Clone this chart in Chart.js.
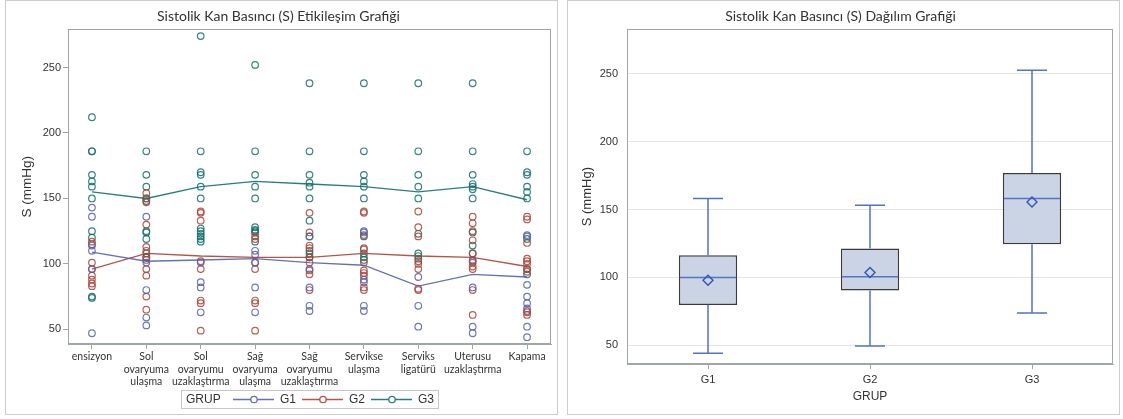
<!DOCTYPE html>
<html>
<head>
<meta charset="utf-8">
<script src="https://cdn.jsdelivr.net/npm/chart.js@4.4.1/dist/chart.umd.min.js"></script>
<style>
  html, body { margin: 0; padding: 0; background: #ffffff; }
  .panel { position: absolute; top: 0; width: 553px; height: 415px; border: 1px solid #cdcdcd; box-sizing: border-box; background: #fff; }
  #panelLeft { left: 5px; }
  #panelRight { left: 567px; }
  canvas { display: block; }
</style>
</head>
<body>
<div class="panel" id="panelLeft"><canvas id="interactionChart" width="551" height="413"></canvas></div>
<div class="panel" id="panelRight"><canvas id="boxChart" width="551" height="413"></canvas></div>
<script>
// ---- Stage labels (surgery phases) ----
const stageLabels = [
  'ensizyon',
  ['Sol', 'ovaryuma', 'ulaşma'],
  ['Sol', 'ovaryumu', 'uzaklaştırma'],
  ['Sağ', 'ovaryuma', 'ulaşma'],
  ['Sağ', 'ovaryumu', 'uzaklaştırma'],
  ['Servikse', 'ulaşma'],
  ['Serviks', 'ligatürü'],
  ['Uterusu', 'uzaklaştırma'],
  'Kapama'
];
const groupNames = ['G1', 'G2', 'G3'];
const yTicks = [50, 100, 150, 200, 250];

// ---- Individual systolic pressures per stage (mmHg) ----
const g1Values = [
  [143, 136, 114, 110, 96, 47],
  [136, 101, 80, 59, 53],
  [101, 86, 82, 63],
  [110, 107, 101, 82, 63],
  [121, 96, 82, 68, 64],
  [125, 124, 88, 86, 68, 64],
  [90, 68, 52],
  [103, 82, 52, 47],
  [122, 121, 84, 75, 70, 66, 52, 44]
];
const g2Values = [
  [117, 115, 101, 96, 91, 88, 85, 83],
  [154, 150, 147, 130, 113, 110, 105, 103, 96, 91, 75, 65],
  [140, 139, 133, 102, 96, 72, 70, 49],
  [121, 119, 101, 96, 72, 70, 49],
  [139, 124, 114, 112, 105, 101, 95, 92, 80],
  [140, 139, 122, 112, 111, 101, 95, 93, 91, 82, 80],
  [140, 128, 121, 102, 100, 96, 81, 80],
  [136, 131, 125, 118, 108, 102, 101, 98, 96, 80, 61],
  [136, 134, 116, 104, 102, 100, 96, 94, 64, 63, 61]
];
const g3Values = [
  [212, 186, 186, 168, 163, 159, 150, 125, 120, 75, 74],
  [186, 168, 159, 150, 148, 125, 124, 119, 108, 105],
  [274, 186, 170, 168, 159, 150, 127, 125, 123, 121, 119, 117],
  [252, 186, 168, 159, 150, 128, 126, 125, 124, 117],
  [238, 186, 168, 162, 159, 150, 133, 121, 110, 108, 105],
  [238, 186, 168, 163, 159, 150, 121, 108, 105, 103],
  [238, 186, 168, 159, 150, 123, 108, 106, 104],
  [238, 186, 168, 161, 159, 157, 150, 124, 114, 108],
  [186, 170, 168, 159, 155, 150, 119, 96, 92]
];

// ---- Group means per stage ----
const g1Means = [109, 102, 103, 104, 101, 99, 83, 92, 90];
const g2Means = [96, 108, 106, 105, 105, 108, 106, 105, 98];
const g3Means = [155, 150, 159, 163, 161, 159, 155, 159, 149];

// ---- Box plot summary per group ----
const boxMin    = [44.2, 49.5, 73.8];
const boxQ1     = [79.7, 90.4, 124.5];
const boxMedian = [100, 100.5, 158.2];
const boxMean   = [98, 103.7, 155.6];
const boxQ3     = [116.4, 121.3, 176.9];
const boxMax    = [158.2, 153.2, 252.7];

// ---- Styling ----
const lineColors  = ['rgba(84,98,170,0.9)', 'rgba(170,68,56,0.9)', 'rgba(20,112,104,0.9)'];
const pointColors = ['rgba(84,98,170,0.85)', 'rgba(170,68,56,0.85)', 'rgba(20,112,104,0.85)'];
const axisColor = '#9ea6aa';
const textColor = '#333333';
const arialLike = '"Liberation Sans", Arial, sans-serif';
const tickFont = { family: arialLike, size: 11 };
const calibriLike = '"Lato", "Open Sans", sans-serif';

const frame = {
  id: 'plotFrame',
  afterDraw(chart) {
    const a = chart.chartArea, ctx = chart.ctx;
    ctx.save();
    ctx.strokeStyle = axisColor;
    ctx.lineWidth = 1;
    ctx.strokeRect(Math.round(a.left) + 0.5, Math.round(a.top) + 0.5,
                   Math.round(a.right - a.left) - 1, Math.round(a.bottom - a.top) - 1);
    ctx.restore();
  }
};

// Legend drawn below the interaction plot
const groupLegend = {
  id: 'groupLegend',
  afterDraw(chart) {
    const ctx = chart.ctx;
    const cy = 398.5;
    ctx.save();
    ctx.strokeStyle = '#c6c6c6';
    ctx.lineWidth = 1;
    ctx.strokeRect(175.5, 389.5, 257, 18);
    ctx.fillStyle = textColor;
    ctx.textBaseline = 'middle';
    ctx.font = '12px ' + arialLike;
    ctx.fillText('GRUP', 180, cy);
    groupNames.forEach((name, i) => {
      const x0 = 227 + i * 69;
      ctx.strokeStyle = lineColors[i];
      ctx.lineWidth = 1.3;
      ctx.beginPath();
      ctx.moveTo(x0, cy);
      ctx.lineTo(x0 + 41, cy);
      ctx.stroke();
      ctx.fillStyle = '#fff';
      ctx.beginPath();
      ctx.arc(x0 + 21, cy, 3.2, 0, Math.PI * 2);
      ctx.fill();
      ctx.stroke();
      ctx.fillStyle = textColor;
      ctx.font = '12px ' + arialLike;
      ctx.fillText(name, x0 + 47, cy);
    });
    ctx.restore();
  }
};

const pointSets = [g1Values, g2Values, g3Values];
const meanSets = [g1Means, g2Means, g3Means];
const datasets = [];
pointSets.forEach((vals, g) => {
  datasets.push({
    type: 'scatter',
    label: groupNames[g] + ' values',
    data: vals.flatMap((arr, i) => arr.map(v => ({ x: i, y: v }))),
    pointStyle: 'circle',
    pointRadius: 3.3,
    pointBorderWidth: 1.2,
    pointBorderColor: pointColors[g],
    pointBackgroundColor: 'rgba(255,255,255,0)',
    showLine: false,
    order: 2
  });
});
meanSets.forEach((means, g) => {
  datasets.push({
    type: 'line',
    label: groupNames[g],
    data: means.map((m, i) => ({ x: i, y: m })),
    borderColor: lineColors[g],
    borderWidth: 1.4,
    pointRadius: 0,
    tension: 0,
    fill: false,
    order: 1
  });
});

new Chart(document.getElementById('interactionChart'), {
  type: 'scatter',
  data: { datasets },
  plugins: [frame, groupLegend],
  options: {
    responsive: false,
    animation: false,
    layout: { padding: { left: 0, right: 6, top: 0, bottom: 0 } },
    plugins: {
      legend: { display: false },
      tooltip: { enabled: false },
      title: {
        display: true,
        text: 'Sistolik Kan Basıncı (S) Etikileşim Grafiği',
        color: textColor,
        font: { family: calibriLike, size: 14, weight: 'normal' },
        padding: { top: 7, bottom: 4.5 }
      }
    },
    scales: {
      x: {
        type: 'linear',
        min: -0.44,
        max: 8.44,
        afterBuildTicks: s => { s.ticks = stageLabels.map((_, i) => ({ value: i })); },
        afterFit: s => { s.height = 70; },
        ticks: {
          autoSkip: false,
          maxRotation: 0,
          padding: 2,
          color: textColor,
          font: { family: calibriLike, size: 10.5, lineHeight: 1.15 },
          callback: v => stageLabels[v]
        },
        grid: { drawOnChartArea: false, drawTicks: true, tickLength: 5, color: axisColor },
        border: { display: true, color: axisColor }
      },
      y: {
        min: 38.8,
        max: 279.2,
        afterBuildTicks: s => { s.ticks = yTicks.map(v => ({ value: v })); },
        afterFit: s => { s.width = 62; },
        ticks: { padding: 2, color: textColor, font: tickFont },
        grid: { drawOnChartArea: false, drawTicks: true, tickLength: 5, color: axisColor },
        border: { display: true, color: axisColor },
        title: {
          display: true,
          text: 'S (mmHg)',
          color: textColor,
          font: { family: arialLike, size: 13.5 },
          padding: { top: 13, bottom: 0 }
        }
      }
    }
  }
});

// Whiskers, medians and mean markers on top of the boxes
const boxDetails = {
  id: 'boxDetails',
  afterDatasetsDraw(chart) {
    const ctx = chart.ctx;
    const xs = chart.scales.x, ys = chart.scales.y;
    const meta = chart.getDatasetMeta(0);
    ctx.save();
    boxQ1.forEach((q1, i) => {
      const cx = xs.getPixelForValue(i);
      const half = meta.data[i].width / 2;
      const capHalf = 15;
      const yMin = ys.getPixelForValue(boxMin[i]);
      const yMax = ys.getPixelForValue(boxMax[i]);
      const yQ1 = ys.getPixelForValue(q1);
      const yQ3 = ys.getPixelForValue(boxQ3[i]);
      const yMed = ys.getPixelForValue(boxMedian[i]);
      const yMean = ys.getPixelForValue(boxMean[i]);
      ctx.strokeStyle = '#5373c4';
      ctx.lineWidth = 1.5;
      ctx.beginPath();
      ctx.moveTo(cx, yQ3); ctx.lineTo(cx, yMax);
      ctx.moveTo(cx, yQ1); ctx.lineTo(cx, yMin);
      ctx.moveTo(cx - capHalf, yMax); ctx.lineTo(cx + capHalf, yMax);
      ctx.moveTo(cx - capHalf, yMin); ctx.lineTo(cx + capHalf, yMin);
      ctx.moveTo(cx - half + 1, yMed); ctx.lineTo(cx + half - 1, yMed);
      ctx.stroke();
      ctx.strokeStyle = '#2f55b8';
      ctx.lineWidth = 1.4;
      const d = 5;
      ctx.beginPath();
      ctx.moveTo(cx, yMean - d);
      ctx.lineTo(cx + d, yMean);
      ctx.lineTo(cx, yMean + d);
      ctx.lineTo(cx - d, yMean);
      ctx.closePath();
      ctx.stroke();
    });
    ctx.restore();
  }
};

new Chart(document.getElementById('boxChart'), {
  type: 'bar',
  data: {
    labels: groupNames,
    datasets: [{
      label: 'S',
      data: boxQ1.map((q1, i) => [q1, boxQ3[i]]),
      backgroundColor: '#cbd4e4',
      borderColor: '#3a3a3a',
      borderWidth: 1.5,
      borderSkipped: false,
      barPercentage: 0.36,
      categoryPercentage: 1
    }]
  },
  plugins: [frame, boxDetails],
  options: {
    responsive: false,
    animation: false,
    layout: { padding: { left: 0, right: 6, top: 0, bottom: 0 } },
    plugins: {
      legend: { display: false },
      tooltip: { enabled: false },
      title: {
        display: true,
        text: 'Sistolik Kan Basıncı (S) Dağılım Grafiği',
        color: textColor,
        font: { family: calibriLike, size: 14, weight: 'normal' },
        padding: { top: 7, bottom: 4.5 }
      }
    },
    scales: {
      x: {
        offset: true,
        afterFit: s => { s.height = 50; },
        ticks: { padding: 4, color: textColor, font: tickFont },
        grid: { display: true, offset: false, drawOnChartArea: false, drawTicks: true, tickLength: 5, color: axisColor },
        border: { display: true, color: axisColor },
        title: {
          display: true,
          text: 'GRUP',
          color: textColor,
          font: { family: arialLike, size: 12 },
          padding: { top: 0, bottom: 10 }
        }
      },
      y: {
        min: 36.2,
        max: 282.9,
        afterBuildTicks: s => { s.ticks = yTicks.map(v => ({ value: v })); },
        afterFit: s => { s.width = 59; },
        ticks: { padding: 9, color: textColor, font: tickFont },
        grid: { drawOnChartArea: true, drawTicks: false, color: '#e4e4e4' },
        border: { display: true, color: axisColor },
        title: {
          display: true,
          text: 'S (mmHg)',
          color: textColor,
          font: { family: arialLike, size: 13 },
          padding: { top: 12, bottom: 0 }
        }
      }
    }
  }
});
</script>
</body>
</html>
